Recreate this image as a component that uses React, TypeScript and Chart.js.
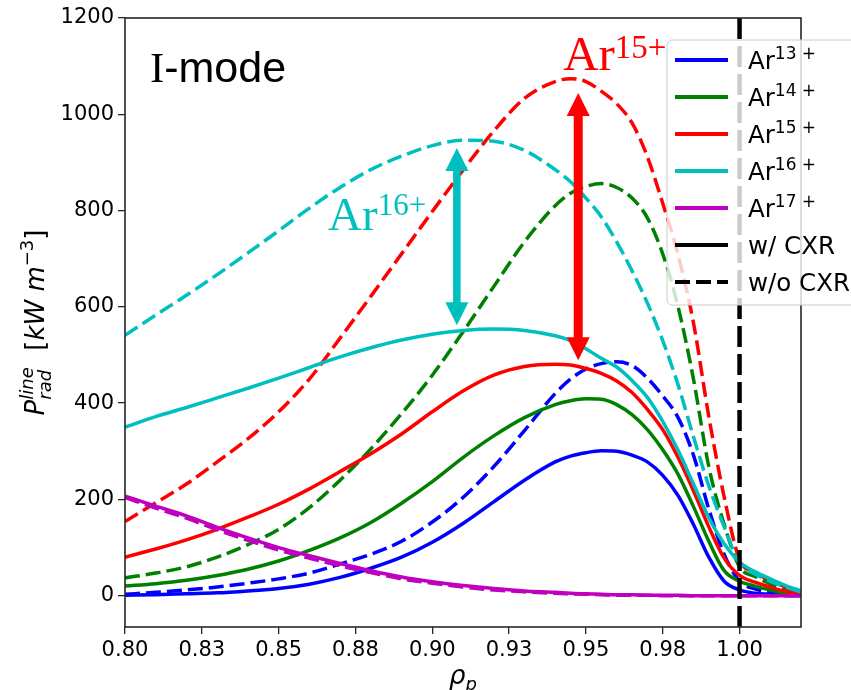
import React, { useEffect, useRef } from 'react';
import { Chart, registerables } from 'chart.js';

Chart.register(...registerables);

// ---------------- data ----------------
const rho = [0.80, 0.81, 0.82, 0.83, 0.84, 0.85, 0.86, 0.87, 0.88, 0.89, 0.90, 0.91, 0.92, 0.93, 0.94,
  0.945, 0.95, 0.955, 0.96, 0.965, 0.97, 0.975, 0.98, 0.985, 0.99, 0.995, 1.00, 1.005, 1.01, 1.015, 1.02];

const ar13WithCXR = [1, 2, 4, 6, 10, 15, 24, 38, 57, 80, 111, 150, 195, 240, 278,
  290, 297, 301, 300, 292, 278, 250, 208, 148, 80, 30, 12, 5, 3, 1, 0];
const ar13WithoutCXR = [3, 7, 12, 18, 26, 35, 47, 66, 86, 113, 153, 204, 268, 343, 420,
  450, 471, 482, 486, 478, 452, 415, 370, 292, 180, 86, 30, 14, 7, 3, 1];
const ar14WithCXR = [20, 25, 32, 42, 55, 72, 94, 120, 152, 192, 237, 287, 332, 370, 397,
  405, 409, 408, 397, 376, 345, 303, 252, 185, 113, 52, 30, 20, 12, 5, 2];
const ar14WithoutCXR = [37, 47, 60, 80, 106, 138, 183, 240, 305, 378, 458, 548, 642, 735, 810,
  836, 850, 856, 848, 826, 785, 710, 600, 450, 268, 148, 60, 40, 25, 12, 5];
const ar15WithCXR = [80, 97, 116, 138, 163, 190, 222, 258, 295, 336, 382, 425, 458, 476, 481,
  479, 472, 462, 446, 422, 387, 345, 287, 218, 143, 78, 42, 28, 18, 9, 3];
const ar15WithoutCXR = [154, 193, 232, 278, 326, 382, 450, 535, 622, 710, 798, 884, 965, 1033, 1068,
  1074, 1068, 1048, 1022, 982, 912, 815, 708, 567, 372, 205, 75, 48, 32, 18, 8];
const ar16WithCXR = [350, 372, 391, 411, 431, 452, 474, 496, 515, 531, 543, 551, 554, 551, 540,
  530, 513, 493, 475, 447, 412, 362, 302, 232, 162, 108, 70, 50, 35, 21, 10];
const ar16WithoutCXR = [541, 583, 624, 667, 712, 758, 805, 848, 885, 913, 935, 946, 944, 925, 885,
  860, 826, 787, 735, 675, 608, 530, 438, 330, 228, 143, 68, 45, 30, 18, 8];
const ar17WithCXR = [207, 186, 166, 142, 120, 100, 83, 67, 52, 39, 29, 21, 15, 10, 7,
  5, 4, 3, 2, 2, 1, 1, 1, 0, 0, 0, 0, 0, 0, 0, 0];
const ar17WithoutCXR = [204, 182, 161, 137, 115, 95, 78, 62, 48, 35, 26, 18, 12, 8, 5,
  4, 3, 2, 1, 1, 1, 0, 0, 0, 0, 0, 0, 0, 0, 0, 0];

const ionCharges = ['13', '14', '15', '16', '17'];
const ionColors = ['#0000ff', '#008000', '#ff0000', '#00bfbf', '#bf00bf'];
const seriesWithCXR = [ar13WithCXR, ar14WithCXR, ar15WithCXR, ar16WithCXR, ar17WithCXR];
const seriesWithoutCXR = [ar13WithoutCXR, ar14WithoutCXR, ar15WithoutCXR, ar16WithoutCXR, ar17WithoutCXR];

const xMin = 0.8;
const xMax = 1.02;
const yMin = -65;
const yMax = 1200;
const xTickValues = [0.8, 0.825, 0.85, 0.875, 0.9, 0.925, 0.95, 0.975, 1.0];
const xTickLabels = ['0.80', '0.83', '0.85', '0.88', '0.90', '0.93', '0.95', '0.98', '1.00'];
const yTickValues = [0, 200, 400, 600, 800, 1000, 1200];
const separatrix = 1.0;

// annotations (data coordinates)
const arrowX = [0.908, 0.9475];
const arrowTop = [930, 1044];
const arrowBottom = [562, 489];
const arrowColors = ['#00bfbf', '#ff0000'];
const ionLabelCharges = ['16+', '15+'];
const ionLabelX = [0.8661, 0.9426];
const ionLabelY = [760, 1092];
const ionLabelColors = ['#00bfbf', '#ff0000'];
const modeLabelX = 0.8081;
const modeLabelY = 1067;

const legendCXR = ['w/ CXR', 'w/o CXR'];

// ---------------- helpers ----------------
const DV = '"DejaVu Sans"';
type Piece = { t: string; size: number; dy?: number; italic?: boolean; family?: string };

function fontOf(p: Piece) {
  return `${p.italic ? 'italic ' : ''}${p.size}px ${p.family ?? DV}`;
}

function colWidth(ctx: CanvasRenderingContext2D, col: Piece[]) {
  let w = 0;
  for (const p of col) {
    ctx.font = fontOf(p);
    w = Math.max(w, ctx.measureText(p.t).width);
  }
  return w;
}

function drawCols(ctx: CanvasRenderingContext2D, cols: Piece[][], x: number, y: number) {
  let cx = x;
  for (const col of cols) {
    for (const p of col) {
      ctx.font = fontOf(p);
      ctx.fillText(p.t, cx, y + (p.dy ?? 0));
    }
    cx += colWidth(ctx, col);
  }
}

function totalWidth(ctx: CanvasRenderingContext2D, cols: Piece[][]) {
  return cols.reduce((s, c) => s + colWidth(ctx, c), 0);
}

function drawDoubleArrow(ctx: CanvasRenderingContext2D, x: number, yTop: number, yBot: number, color: string, shaft: number, headW: number, headL: number) {
  ctx.save();
  ctx.fillStyle = color;
  ctx.fillRect(x - shaft / 2, yTop + headL - 1, shaft, yBot - yTop - 2 * headL + 2);
  ctx.beginPath();
  ctx.moveTo(x, yTop);
  ctx.lineTo(x - headW / 2, yTop + headL);
  ctx.lineTo(x + headW / 2, yTop + headL);
  ctx.closePath();
  ctx.fill();
  ctx.beginPath();
  ctx.moveTo(x, yBot);
  ctx.lineTo(x - headW / 2, yBot - headL);
  ctx.lineTo(x + headW / 2, yBot - headL);
  ctx.closePath();
  ctx.fill();
  ctx.restore();
}

const overlayPlugin = {
  id: 'overlay',
  afterDatasetsDraw(chart: any) {
    const ctx: CanvasRenderingContext2D = chart.ctx;
    const xs = chart.scales.x;
    const ys = chart.scales.y;
    const area = chart.chartArea;

    // arrows
    arrowX.forEach((ax, i) => {
      drawDoubleArrow(ctx, xs.getPixelForValue(ax), ys.getPixelForValue(arrowTop[i]),
        ys.getPixelForValue(arrowBottom[i]), arrowColors[i], i === 0 ? 7.5 : 9, 23, 23);
    });

    // ion labels
    ctx.save();
    ctx.textBaseline = 'alphabetic';
    ionLabelCharges.forEach((q, i) => {
      ctx.fillStyle = ionLabelColors[i];
      const big = i === 0 ? 47 : 49;
      const small = i === 0 ? 31 : 33;
      const raise = i === 0 ? 15 : 12;
      drawCols(ctx, [
        [{ t: 'Ar', size: big, family: '"Liberation Serif"' }],
        [{ t: q, size: small, family: '"Liberation Serif"', dy: -raise }],
      ], xs.getPixelForValue(ionLabelX[i]), ys.getPixelForValue(ionLabelY[i]));
    });

    // I-mode
    ctx.fillStyle = '#000';
    drawCols(ctx, [
      [{ t: 'I', size: 43, family: '"Liberation Serif"' }],
      [{ t: '-mode', size: 43, family: '"Liberation Sans"' }],
    ], xs.getPixelForValue(modeLabelX), ys.getPixelForValue(modeLabelY));
    ctx.restore();

    // frame
    ctx.save();
    ctx.strokeStyle = '#262626';
    ctx.lineWidth = 1.6;
    ctx.strokeRect(area.left, area.top, area.right - area.left, area.bottom - area.top);
    ctx.restore();
  },
  afterDraw(chart: any) {
    const ctx: CanvasRenderingContext2D = chart.ctx;
    const area = chart.chartArea;
    ctx.save();
    ctx.fillStyle = '#000';
    ctx.textBaseline = 'alphabetic';

    // y title
    const yCols: Piece[][] = [
      [{ t: 'P', size: 26, italic: true }],
      [{ t: 'line', size: 18, italic: true, dy: -11 }, { t: 'rad', size: 18, italic: true, dy: 7 }],
      [{ t: '  [', size: 26 }],
      [{ t: 'kW', size: 26, italic: true }],
      [{ t: ' ', size: 26 }],
      [{ t: 'm', size: 26, italic: true }],
      [{ t: '\u2212', size: 18, dy: -11 }],
      [{ t: '3', size: 18, dy: -11 }],
      [{ t: ']', size: 26 }],
    ];
    ctx.save();
    ctx.translate(44, (area.top + area.bottom) / 2);
    ctx.rotate(-Math.PI / 2);
    const tw = totalWidth(ctx, yCols);
    drawCols(ctx, yCols, -tw / 2, 0);
    ctx.restore();

    // x title
    const xCols: Piece[][] = [
      [{ t: '\u03C1', size: 26, italic: true }],
      [{ t: 'p', size: 18, italic: true, dy: 6 }],
    ];
    const xw = totalWidth(ctx, xCols);
    drawCols(ctx, xCols, (area.left + area.right) / 2 - xw / 2, 684);

    // legend
    const bx = 667, by = 40, bw = 200, bh = 265;
    ctx.beginPath();
    (ctx as any).roundRect(bx, by, bw, bh, 5);
    ctx.fillStyle = 'rgba(255,255,255,0.8)';
    ctx.fill();
    ctx.strokeStyle = '#cccccc';
    ctx.lineWidth = 1;
    ctx.stroke();

    const rowY = (i: number) => 60 + i * 37;
    const l0 = 675, l1 = 728, tx = 748;
    ionCharges.forEach((q, i) => {
      const y = rowY(i);
      ctx.strokeStyle = ionColors[i];
      ctx.lineWidth = 3.8;
      ctx.setLineDash([]);
      ctx.beginPath();
      ctx.moveTo(l0, y);
      ctx.lineTo(l1, y);
      ctx.stroke();
      ctx.fillStyle = '#000';
      drawCols(ctx, [
        [{ t: 'Ar', size: 24.5 }],
        [{ t: q, size: 17, dy: -10 }],
        [{ t: ' +', size: 17, dy: -10 }],
      ], tx, y + 9);
    });
    legendCXR.forEach((lab, j) => {
      const y = rowY(5 + j);
      ctx.strokeStyle = '#000';
      ctx.lineWidth = 3.8;
      ctx.setLineDash(j === 0 ? [] : [15, 6]);
      ctx.beginPath();
      ctx.moveTo(l0, y);
      ctx.lineTo(l1, y);
      ctx.stroke();
      ctx.setLineDash([]);
      ctx.fillStyle = '#000';
      ctx.font = `24.5px ${DV}`;
      ctx.fillText(lab, tx, y + 9);
    });
    ctx.restore();
  },
};

export default function App() {
  const ref = useRef<HTMLCanvasElement>(null);

  useEffect(() => {
    document.body.style.margin = '0';
    const canvas = ref.current;
    if (!canvas) return;

    const datasets: any[] = [];
    let k = 0;
    ionCharges.forEach((q, i) => {
      datasets.push({
        label: `Ar${q}+ w/ CXR`,
        data: rho.map((x, j) => ({ x, y: seriesWithCXR[i][j] })),
        borderColor: ionColors[i],
        borderWidth: 3.5,
        pointRadius: 0,
        cubicInterpolationMode: 'monotone',
        order: -k++,
      });
      datasets.push({
        label: `Ar${q}+ w/o CXR`,
        data: rho.map((x, j) => ({ x, y: seriesWithoutCXR[i][j] })),
        borderColor: ionColors[i],
        borderWidth: 3.5,
        borderDash: [15, 6],
        pointRadius: 0,
        cubicInterpolationMode: 'monotone',
        order: -k++,
      });
    });
    datasets.push({
      label: 'separatrix',
      data: [{ x: separatrix, y: yMin }, { x: separatrix, y: yMax }],
      borderColor: '#000',
      borderWidth: 4.5,
      borderDash: [21, 7],
      pointRadius: 0,
      order: -100,
    });

    const chart = new Chart(canvas, {
      type: 'line',
      data: { datasets },
      options: {
        animation: false,
        responsive: false,
        devicePixelRatio: 1,
        layout: { padding: { left: 0, top: 18, right: 50, bottom: 0 } },
        plugins: { legend: { display: false }, tooltip: { enabled: false } },
        scales: {
          x: {
            type: 'linear',
            min: xMin,
            max: xMax,
            afterBuildTicks: (s: any) => { s.ticks = xTickValues.map((v) => ({ value: v })); },
            afterFit: (s: any) => { s.height = 63; },
            ticks: {
              callback: (_v: any, idx: number) => xTickLabels[idx],
              autoSkip: false,
              maxRotation: 0,
              padding: 4,
              color: '#000',
              font: { family: 'DejaVu Sans', size: 21 },
            },
            grid: { display: true, drawOnChartArea: false, drawTicks: true, tickLength: 7, color: '#262626', lineWidth: 1.3 },
            border: { display: false },
          },
          y: {
            type: 'linear',
            min: yMin,
            max: yMax,
            afterBuildTicks: (s: any) => { s.ticks = yTickValues.map((v) => ({ value: v })); },
            afterFit: (s: any) => { s.width = 125; },
            ticks: {
              callback: (v: any) => String(v),
              autoSkip: false,
              padding: 4,
              color: '#000',
              font: { family: 'DejaVu Sans', size: 21 },
            },
            grid: { display: true, drawOnChartArea: false, drawTicks: true, tickLength: 7, color: '#262626', lineWidth: 1.3 },
            border: { display: false },
          },
        },
      },
      plugins: [overlayPlugin],
    });
    return () => chart.destroy();
  }, []);

  return (
    <div style={{ width: 851, height: 690 }}>
      <canvas ref={ref} width={851} height={690} style={{ display: 'block' }} />
    </div>
  );
}
